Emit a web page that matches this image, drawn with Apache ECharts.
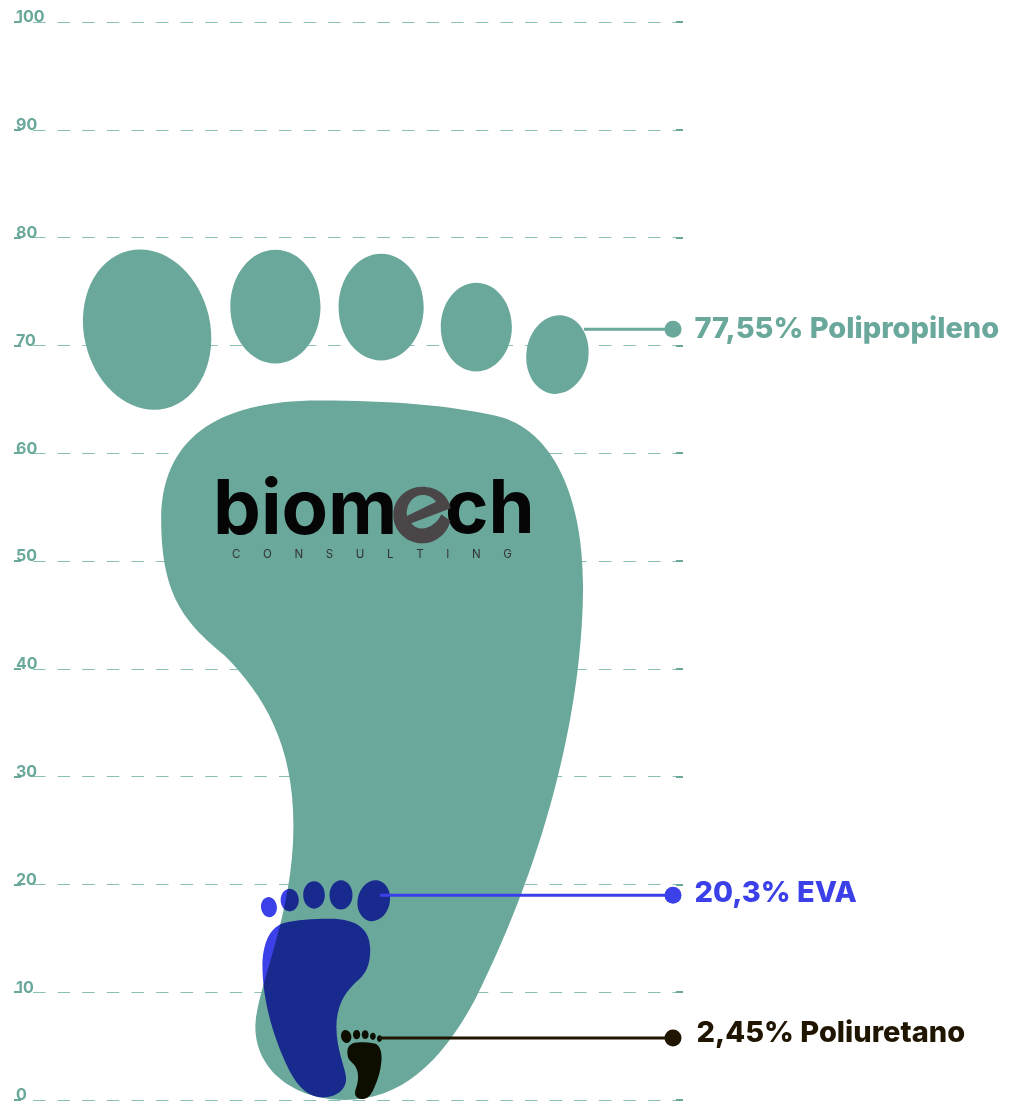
<!DOCTYPE html>
<html>
<head>
<meta charset="utf-8">
<title>Materiales</title>
<script src="https://cdn.jsdelivr.net/npm/echarts@6/dist/echarts.min.js"></script>
<style>
  html, body { margin: 0; padding: 0; background: #fff; }
  #main { width: 1010px; height: 1101px; }
</style>
</head>
<body>
<div id="main"></div>
<script>
// datos
var materials = ['Polipropileno', 'EVA', 'Poliuretano'];
var shares = [77.55, 20.3, 2.45];
var footHeights = [78.9, 20.15, 6.4];
var leaderLevels = [71.5, 19, 5.75];
var axisTicks = [0, 10, 20, 30, 40, 50, 60, 70, 80, 90, 100];

var TEAL = '#6aa89c';
var colors = [TEAL, '#3b40e8', '#1f1500'];

// where each foot sits, not data
var footLeft = [83, 261, 341];
var footLift = [0, 2.5, 1];
var footMirror = [false, true, false];
var FOOT_RATIO = 506 / 851;
var leaderStart = [584, 380, 380];
var LEADER_END = 673;
var labelShift = [[-1, 0], [-1, -2], [1, -5]];

// ellipse as four beziers, so the bounding box stays exact
function toe(cx, cy, rx, ry, deg) {
  var a = deg * Math.PI / 180, k = 0.5523;
  function p(u, v) {
    var x = u * rx, y = v * ry;
    return (cx + x * Math.cos(a) - y * Math.sin(a)).toFixed(1) + ' ' +
           (cy + x * Math.sin(a) + y * Math.cos(a)).toFixed(1);
  }
  return 'M' + p(1, 0) +
    'C' + p(1, k) + ' ' + p(k, 1) + ' ' + p(0, 1) +
    'C' + p(-k, 1) + ' ' + p(-1, k) + ' ' + p(-1, 0) +
    'C' + p(-1, -k) + ' ' + p(-k, -1) + ' ' + p(0, -1) +
    'C' + p(k, -1) + ' ' + p(1, -k) + ' ' + p(1, 0) + 'Z';
}

var FOOT_PATH =
  toe(148, 329, 63, 81, -13) +
  toe(276, 306, 45, 57, 0) +
  toe(381.5, 306.5, 42.5, 53.5, 0) +
  toe(476.5, 326.5, 35.5, 44.5, 0) +
  toe(557.5, 354, 31, 39.5, 8) +
  'M162 520C162 440 215 400 320 400C390 400 450 405 495 415' +
  'C555 428 583 500 583 585C583 700 550 850 475 1000' +
  'C440 1065 400 1100 345 1100C295 1100 255 1070 256 1025' +
  'C258 985 294 915 294 825C294 745 265 695 225 655' +
  'C190 625 162 600 162 520Z';

var E_PATH =
  'M194 85C188 45 152 20 110 20C63 20 25 58 25 105C25 152 63 190 110 190' +
  'C150 190 185 160 193 122L166 103C155 135 105 165 78 130L194 85Z' +
  'M65 108C62 70 85 45 112 45C128 45 142 53 151 65L65 108Z';

function footRenderer(i) {
  return function (params, api) {
    var lift = footLift[i];
    var bottom = api.coord([footLeft[i], 0])[1] - lift;
    var top = api.coord([footLeft[i], api.value(0)])[1] - lift;
    var h = bottom - top;
    var w = h * FOOT_RATIO;
    var left = api.coord([footLeft[i], 0])[0];
    return {
      type: 'path',
      x: footMirror[i] ? left + w : left,
      y: top,
      scaleX: footMirror[i] ? -1 : 1,
      shape: { pathData: FOOT_PATH, x: 0, y: 0, width: w, height: h, layout: 'cover' },
      style: { fill: colors[i] }
    };
  };
}

// la "e" del logo, gris y girada
function renderLogoE() {
  return {
    type: 'path',
    shape: { pathData: E_PATH, x: 393.3, y: 486.7, width: 57.4, height: 56.6, layout: 'cover' },
    style: { fill: '#4a4648' }
  };
}

var footSeries = materials.map(function (name, i) {
  return {
    type: 'custom',
    name: name + ' pie',
    z: 3,
    silent: true,
    coordinateSystem: 'cartesian2d',
    // el azul y el negro se multiplican sobre lo de abajo
    blendMode: i === 0 ? 'source-over' : 'multiply',
    renderItem: footRenderer(i),
    encode: { y: 0 },
    data: [[footHeights[i]]]
  };
});

var leaderSeries = materials.map(function (name, i) {
  return {
    type: 'line',
    name: name,
    z: 5,
    silent: true,
    symbol: 'circle',
    symbolSize: function (v, p) { return p.dataIndex === 1 ? 17 : 0; },
    lineStyle: { color: colors[i], width: 3 },
    itemStyle: { color: colors[i] },
    data: [
      [leaderStart[i], leaderLevels[i]],
      {
        value: [LEADER_END, leaderLevels[i]],
        label: {
          show: true,
          position: 'right',
          distance: 14,
          offset: labelShift[i],
          color: colors[i],
          fontFamily: 'Inter',
          fontWeight: 800,
          fontSize: 29,
          formatter: String(shares[i]).replace('.', ',') + '% ' + name
        }
      }
    ]
  };
});

var myChart = echarts.init(document.getElementById('main'), null, { renderer: 'canvas' });

myChart.setOption({
  animation: false,
  backgroundColor: '#ffffff',
  grid: { left: 14, right: 327, top: 22, bottom: 1, outerBoundsMode: 'none' },
  xAxis: { type: 'value', min: 14, max: 683, show: false },
  yAxis: [
    {
      type: 'value', min: 0, max: 100, interval: 10,
      axisLine: { show: false },
      axisTick: { show: true, inside: true, length: 7, lineStyle: { color: TEAL, width: 2 } },
      axisLabel: {
        inside: true, margin: 2, align: 'left', verticalAlign: 'bottom',
        color: TEAL, fontFamily: 'Inter', fontWeight: 700, fontSize: 16, lineHeight: 9,
        customValues: axisTicks
      },
      splitLine: {
        show: true,
        lineStyle: { color: '#8bbfb3', width: 1.2, type: [12.5, 12.1], dashOffset: 5.6 }
      }
    },
    {
      type: 'value', min: 0, max: 100, interval: 10, position: 'right',
      axisLine: { show: false },
      axisLabel: { show: false },
      axisTick: { show: true, inside: true, length: 7, lineStyle: { color: TEAL, width: 2 } },
      splitLine: { show: false }
    }
  ],
  graphic: [
    { type: 'text', z: 20, x: 213, y: 511, style: { text: 'biom', fill: '#050505', font: '700 76px Inter', verticalAlign: 'middle' } },
    { type: 'text', z: 20, x: 445, y: 511, style: { text: 'ch', fill: '#050505', font: '700 74px Inter', verticalAlign: 'middle' } },
    {
      type: 'text', z: 20, x: 232, y: 555,
      style: {
        text: 'C       O       N       S       U       L       T       I       N       G',
        fill: '#333333', font: '400 11.5px Inter', verticalAlign: 'middle'
      }
    }
  ],
  series: footSeries.concat([
    {
      type: 'custom',
      z: 30,
      silent: true,
      coordinateSystem: 'none',
      renderItem: renderLogoE,
      data: [[1]]
    }
  ]).concat(leaderSeries)
});
</script>
</body>
</html>
